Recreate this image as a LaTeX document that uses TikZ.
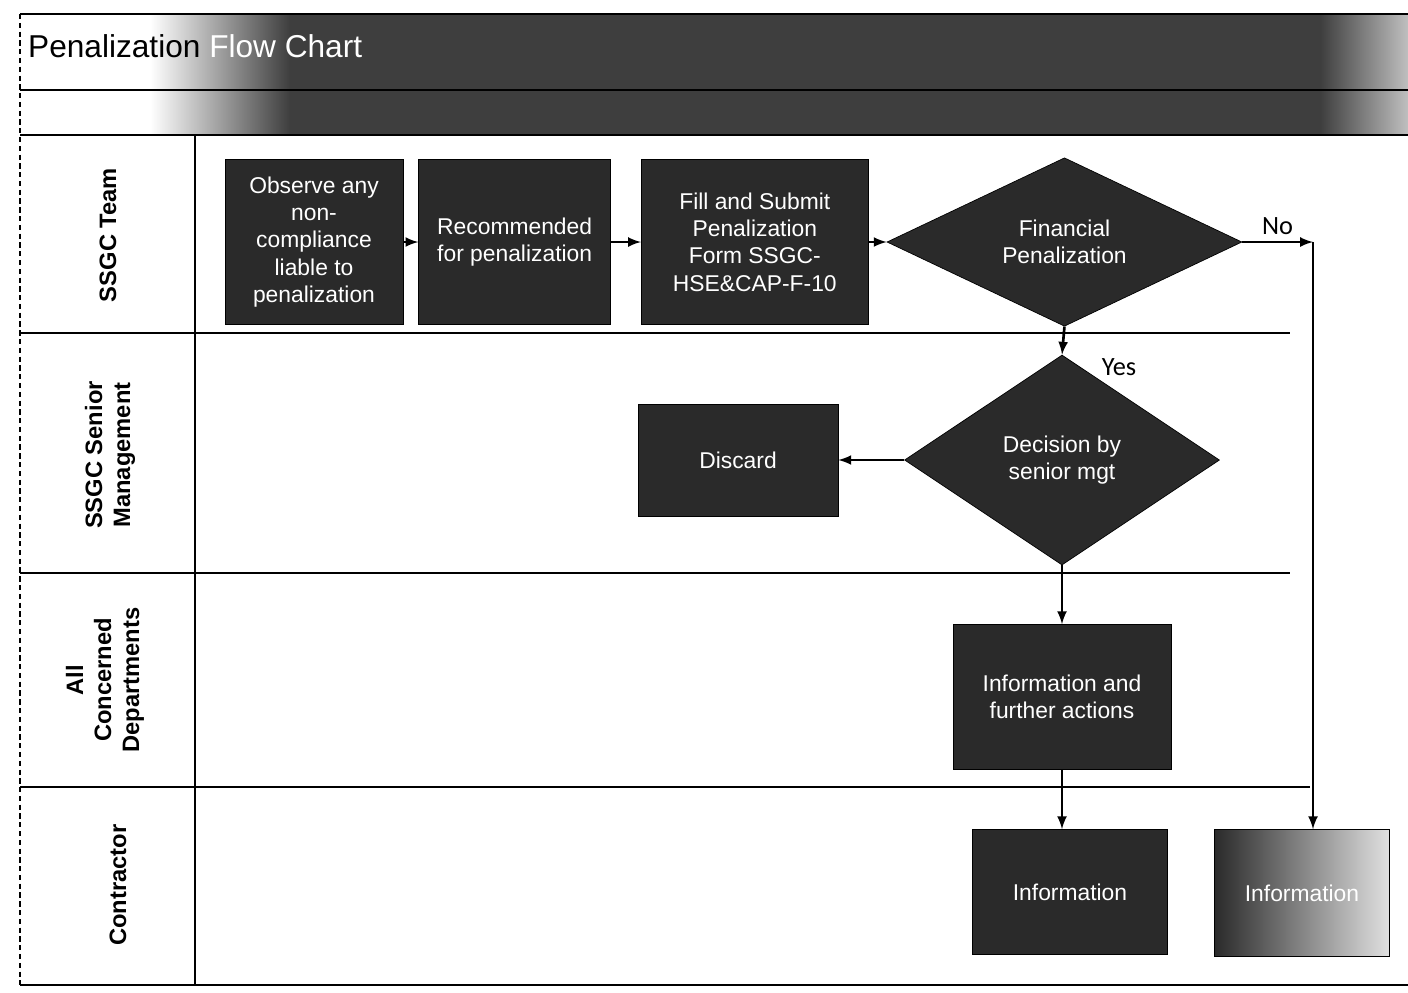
\documentclass[tikz,border=0pt]{standalone}
\usepackage{fontspec}
\setmainfont{Liberation Sans}
\newfontfamily\yesnofont{Carlito}
\usepackage{tikz}
\usetikzlibrary{shapes,arrows,positioning}
\definecolor{boxdark}{RGB}{42,42,42}
\definecolor{banddark}{RGB}{62,62,62}

\begin{document}
\begin{tikzpicture}[x=0.02cm, y=-0.02cm, >=latex,
    lanebox/.style={rectangle, draw=black, fill=boxdark, text=white, align=center, font=\fontsize{13}{15.5}\selectfont, inner sep=2pt},
    decide/.style={diamond, draw=black, fill=boxdark, text=white, align=center, font=\fontsize{13}{15.5}\selectfont, inner sep=0pt},
    lanename/.style={rotate=90, align=center, font=\bfseries\fontsize{13.5}{16}\selectfont},
    answer/.style={font=\yesnofont\fontsize{15}{17}\selectfont},
    flow/.style={->, line width=1.5pt},
    laneline/.style={line width=1pt}]
  \useasboundingbox (0,0) rectangle (1408,992);
  \fill[white] (0,0) rectangle (1408,992);

  \shade[left color=white, right color=banddark] (150,14) rectangle (290,135);
  \fill[banddark] (290,14) rectangle (1320,135);
  \shade[left color=banddark, right color=black!25] (1320,14) rectangle (1408,135);
  \node[anchor=west, font=\fontsize{18}{20}\selectfont] (title) at (22,46) {Penalization {\color{white}Flow Chart}};

  \draw[laneline] (20,14) -- (1408,14);
  \draw[laneline] (20,90) -- (1408,90);
  \draw[laneline] (20,135) -- (1408,135);
  \draw[line width=0.8pt, densely dashed] (20,14) -- (20,985);
  \draw[laneline] (195,135) -- (195,985);
  \draw[laneline] (20,333) -- (1290,333);
  \draw[laneline] (20,573) -- (1290,573);
  \draw[laneline] (20,787) -- (1310,787);
  \draw[laneline] (20,985) -- (1408,985);

  \node[lanename] (teamlbl) at (108,235) {SSGC Team};
  \node[lanename] (mgmtlbl) at (110,455) {SSGC Senior\\Management};
  \node[lanename] (deptlbl) at (105,680) {All\\Concerned\\Departments};
  \node[lanename] (contrlbl) at (118,885) {Contractor};

  \node[lanebox, minimum width=3.56cm, minimum height=3.3cm] (observe) at (314,242) {Observe any\\non-\\compliance\\liable to\\penalization};
  \node[lanebox, minimum width=3.84cm, minimum height=3.3cm, right=0.3cm of observe] (recommend) {Recommended\\for penalization};
  \node[lanebox, minimum width=4.54cm, minimum height=3.3cm, right=0.6cm of recommend] (submit) {Fill and Submit\\Penalization\\Form SSGC-\\HSE\&CAP-F-10};
  \node[decide, minimum width=7.1cm, minimum height=3.2cm, right=0.36cm of submit] (financial) {Financial\\Penalization};
  \node[decide, minimum width=6.3cm, minimum height=4.2cm] (decision) at (1062,460) {Decision by\\senior mgt};
  \node[lanebox, minimum width=4cm, minimum height=2.24cm] (discard) at (738,460) {Discard};
  \node[lanebox, minimum width=4.36cm, minimum height=2.9cm] (further) at (1062,697) {Information and\\further actions};
  \node[lanebox, minimum width=3.9cm, minimum height=2.5cm] (inform) at (1070,892) {Information};
  \node[lanebox, minimum width=3.5cm, minimum height=2.54cm, left color=boxdark, right color=black!12] (informctr) at (1302,893) {Information};
  \coordinate (noturn) at (1313,242);

  \draw[flow] (observe) -- (recommend);
  \draw[flow] (recommend) -- (submit);
  \draw[flow] (submit) -- (financial);
  \draw[flow] (financial.east) -- node[answer, above] (nolbl) {No} (noturn);
  \draw[flow] (noturn) -- (noturn |- informctr.north);
  \draw[flow] (financial.south) -- (decision.north);
  \node[answer] (yeslbl) at (1119,367) {Yes};
  \draw[flow] (decision.west) -- (discard.east);
  \draw[flow] (decision.south) -- (further.north);
  \draw[flow] (further.south) -- (further.south |- inform.north);
\end{tikzpicture}
\end{document}
